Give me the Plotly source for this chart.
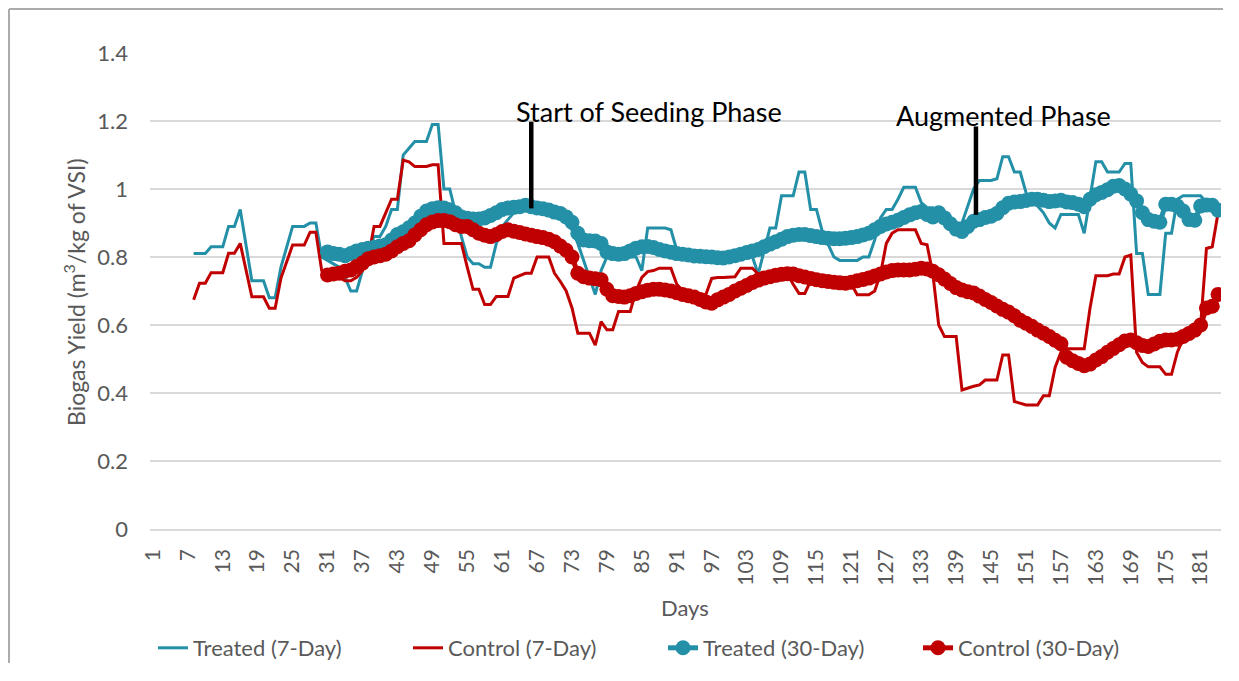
import plotly.graph_objects as go

# ---------------- data ----------------
days_7 = list(range(8, 185))     # 7-day moving average available from day 8
days_30 = list(range(31, 185))   # 30-day moving average available from day 31

treated_7 = [
    0.81, 0.81, 0.81, 0.83, 0.83, 0.83, 0.89, 0.89, 0.94, 0.83,      # 8-17
    0.73, 0.73, 0.73, 0.68, 0.68, 0.77, 0.83, 0.89, 0.89, 0.89,      # 18-27
    0.90, 0.90, 0.80, 0.79, 0.78, 0.77, 0.74, 0.70, 0.70, 0.76,      # 28-37
    0.82, 0.86, 0.86, 0.89, 0.94, 0.94, 1.10, 1.12, 1.14, 1.14,      # 38-47
    1.14, 1.19, 1.19, 1.00, 1.00, 0.93, 0.86, 0.80, 0.78, 0.78,      # 48-57
    0.77, 0.77, 0.84, 0.89, 0.91, 0.93, 0.94, 0.94, 0.945, 0.94,     # 58-67
    0.935, 0.93, 0.925, 0.915, 0.90, 0.88, 0.84, 0.79, 0.74, 0.69,   # 68-77
    0.76, 0.80, 0.80, 0.80, 0.80, 0.80, 0.80, 0.76, 0.885, 0.885,    # 78-87
    0.885, 0.885, 0.88, 0.82, 0.80, 0.80, 0.80, 0.80, 0.79, 0.79,    # 88-97
    0.79, 0.79, 0.80, 0.80, 0.80, 0.80, 0.80, 0.75, 0.82, 0.885,     # 98-107
    0.885, 0.98, 0.98, 0.98, 1.05, 1.05, 0.94, 0.94, 0.875, 0.84,    # 108-117
    0.80, 0.79, 0.79, 0.79, 0.79, 0.80, 0.80, 0.85, 0.915, 0.94,     # 118-127
    0.94, 0.97, 1.005, 1.005, 1.005, 0.96, 0.945, 0.945, 0.93, 0.91, # 128-137
    0.90, 0.90, 0.90, 0.95, 1.00, 1.025, 1.025, 1.025, 1.03, 1.095,  # 138-147
    1.095, 1.05, 1.05, 0.99, 0.96, 0.95, 0.93, 0.90, 0.885, 0.925,   # 148-157
    0.925, 0.925, 0.925, 0.87, 0.97, 1.08, 1.08, 1.05, 1.05, 1.05,   # 158-167
    1.075, 1.075, 0.81, 0.81, 0.69, 0.69, 0.69, 0.87, 0.87, 0.97,    # 168-177
    0.98, 0.98, 0.98, 0.98, 0.96, 0.94, 0.94,                        # 178-184
]

control_7 = [
    0.674, 0.723, 0.723, 0.754, 0.754, 0.754, 0.811, 0.811, 0.84, 0.76,   # 8-17
    0.683, 0.683, 0.683, 0.649, 0.649, 0.738, 0.79, 0.835, 0.835, 0.835,  # 18-27
    0.873, 0.873, 0.76, 0.75, 0.75, 0.74, 0.73, 0.73, 0.74, 0.76,         # 28-37
    0.80, 0.89, 0.89, 0.93, 0.97, 0.97, 1.085, 1.08, 1.066, 1.066,        # 38-47
    1.066, 1.071, 1.071, 0.84, 0.84, 0.84, 0.84, 0.77, 0.705, 0.705,      # 48-57
    0.66, 0.66, 0.684, 0.684, 0.684, 0.738, 0.745, 0.752, 0.752, 0.80,    # 58-67
    0.80, 0.80, 0.752, 0.728, 0.70, 0.65, 0.576, 0.576, 0.576, 0.541,     # 68-77
    0.61, 0.586, 0.586, 0.64, 0.64, 0.64, 0.70, 0.74, 0.757, 0.76,        # 78-87
    0.767, 0.767, 0.767, 0.72, 0.70, 0.69, 0.69, 0.69, 0.69, 0.737,       # 88-97
    0.74, 0.74, 0.742, 0.742, 0.767, 0.767, 0.767, 0.75, 0.75, 0.75,      # 98-107
    0.75, 0.75, 0.75, 0.72, 0.693, 0.693, 0.73, 0.73, 0.73, 0.73,         # 108-117
    0.73, 0.73, 0.73, 0.72, 0.689, 0.689, 0.689, 0.70, 0.75, 0.84,        # 118-127
    0.87, 0.88, 0.88, 0.88, 0.88, 0.84, 0.836, 0.75, 0.60, 0.566,         # 128-137
    0.566, 0.566, 0.409, 0.415, 0.42, 0.424, 0.438, 0.438, 0.438, 0.512,  # 138-147
    0.512, 0.375, 0.37, 0.365, 0.365, 0.365, 0.392, 0.392, 0.475, 0.52,   # 148-157
    0.53, 0.53, 0.53, 0.53, 0.65, 0.745, 0.745, 0.745, 0.75, 0.75,        # 158-167
    0.80, 0.806, 0.52, 0.49, 0.477, 0.477, 0.477, 0.455, 0.455, 0.52,     # 168-177
    0.56, 0.58, 0.58, 0.60, 0.825, 0.83, 0.93,                            # 178-184
]

treated_30 = [
    0.815, 0.81, 0.808, 0.804, 0.81, 0.818, 0.822, 0.826, 0.829, 0.832,   # 31-40
    0.836, 0.85, 0.866, 0.874, 0.886, 0.90, 0.92, 0.935, 0.942, 0.945,    # 41-50
    0.944, 0.939, 0.93, 0.918, 0.914, 0.912, 0.912, 0.915, 0.922, 0.93,   # 51-60
    0.94, 0.944, 0.946, 0.948, 0.952, 0.948, 0.944, 0.942, 0.938, 0.932,  # 61-70
    0.928, 0.918, 0.902, 0.87, 0.85, 0.848, 0.847, 0.84, 0.815, 0.81,     # 71-80
    0.808, 0.81, 0.818, 0.826, 0.83, 0.831, 0.828, 0.822, 0.818, 0.814,   # 81-90
    0.81, 0.808, 0.806, 0.803, 0.802, 0.801, 0.80, 0.798, 0.797, 0.80,    # 91-100
    0.804, 0.808, 0.813, 0.818, 0.822, 0.83, 0.838, 0.845, 0.852, 0.86,   # 101-110
    0.864, 0.866, 0.866, 0.863, 0.86, 0.857, 0.855, 0.854, 0.854, 0.855,  # 111-120
    0.857, 0.86, 0.865, 0.87, 0.88, 0.89, 0.897, 0.902, 0.908, 0.916,     # 121-130
    0.924, 0.93, 0.934, 0.925, 0.918, 0.93, 0.915, 0.898, 0.882, 0.875,   # 131-140
    0.89, 0.905, 0.91, 0.916, 0.92, 0.928, 0.945, 0.958, 0.962, 0.963,    # 141-150
    0.966, 0.97, 0.97, 0.967, 0.963, 0.965, 0.967, 0.962, 0.96, 0.955,    # 151-160
    0.948, 0.97, 0.983, 0.99, 0.998, 1.008, 1.01, 1.0, 0.985, 0.965,      # 161-170
    0.93, 0.91, 0.905, 0.902, 0.955, 0.955, 0.95, 0.935, 0.91, 0.908,     # 171-180
    0.95, 0.953, 0.952, 0.938,                                            # 181-184
]

control_30 = [
    0.747, 0.75, 0.752, 0.758, 0.762, 0.772, 0.782, 0.795, 0.80, 0.804,   # 31-40
    0.808, 0.818, 0.83, 0.84, 0.848, 0.865, 0.88, 0.895, 0.903, 0.907,    # 41-50
    0.907, 0.904, 0.895, 0.89, 0.89, 0.88, 0.87, 0.864, 0.86, 0.866,      # 51-60
    0.875, 0.88, 0.876, 0.872, 0.868, 0.864, 0.86, 0.857, 0.852, 0.845,   # 61-70
    0.832, 0.82, 0.80, 0.752, 0.742, 0.738, 0.736, 0.733, 0.705, 0.686,   # 71-80
    0.684, 0.682, 0.686, 0.693, 0.698, 0.702, 0.705, 0.705, 0.703, 0.70,  # 81-90
    0.695, 0.69, 0.686, 0.682, 0.675, 0.668, 0.664, 0.674, 0.682, 0.69,   # 91-100
    0.70, 0.708, 0.716, 0.725, 0.732, 0.738, 0.742, 0.746, 0.749, 0.751,  # 101-110
    0.75, 0.745, 0.741, 0.737, 0.733, 0.73, 0.728, 0.726, 0.724, 0.723,   # 111-120
    0.726, 0.73, 0.734, 0.738, 0.744, 0.75, 0.756, 0.76, 0.762, 0.762,    # 121-130
    0.762, 0.764, 0.767, 0.765, 0.758, 0.748, 0.735, 0.722, 0.71, 0.703,  # 131-140
    0.698, 0.694, 0.685, 0.675, 0.666, 0.656, 0.646, 0.638, 0.627, 0.614, # 141-150
    0.605, 0.596, 0.585, 0.576, 0.566, 0.555, 0.545, 0.505, 0.495, 0.487, # 151-160
    0.48, 0.485, 0.497, 0.507, 0.52, 0.531, 0.542, 0.553, 0.556, 0.548,   # 161-170
    0.54, 0.537, 0.544, 0.552, 0.556, 0.556, 0.558, 0.566, 0.575, 0.585,  # 171-180
    0.60, 0.65, 0.655, 0.69,                                              # 181-184
]

x_tick_values = list(range(1, 185, 6))
x_tick_labels = [str(v) for v in x_tick_values]

phase_names = ["Start of Seeding Phase", "Augmented Phase"]
phase_days = [66, 142.4]

# ---------------- style ----------------
TEAL = "#2490A8"
RED = "#C00000"
GREY_TEXT = "#595959"
GRID = "#D9D9D9"
FONT = "Lato, 'Open Sans', sans-serif"
FS = 22

fig = go.Figure()
fig.add_trace(go.Scatter(x=days_7, y=treated_7, mode="lines", name="Treated (7-Day)",
                         line=dict(color=TEAL, width=3)))
fig.add_trace(go.Scatter(x=days_7, y=control_7, mode="lines", name="Control (7-Day)",
                         line=dict(color=RED, width=3)))
fig.add_trace(go.Scatter(x=days_30, y=treated_30, mode="lines+markers", name="Treated (30-Day)",
                         line=dict(color=TEAL, width=5),
                         marker=dict(color=TEAL, size=15, symbol="circle")))
fig.add_trace(go.Scatter(x=days_30, y=control_30, mode="lines+markers", name="Control (30-Day)",
                         line=dict(color=RED, width=5),
                         marker=dict(color=RED, size=15, symbol="circle")))

# phase marker lines
fig.add_shape(type="line", xref="x", yref="y", x0=phase_days[0], x1=phase_days[0],
              y0=0.943, y1=1.198, line=dict(color="black", width=4.5), layer="above")
fig.add_shape(type="line", xref="x", yref="y", x0=phase_days[1], x1=phase_days[1],
              y0=0.924, y1=1.184, line=dict(color="black", width=4.5), layer="above")

fig.add_annotation(x=86.3, y=1.228, xref="x", yref="y", text=phase_names[0], showarrow=False,
                   font=dict(family=FONT, size=27, color="black"), xanchor="center", yanchor="middle")
fig.add_annotation(x=147.1, y=1.217, xref="x", yref="y", text=phase_names[1], showarrow=False,
                   font=dict(family=FONT, size=27, color="black"), xanchor="center", yanchor="middle")

# axis titles as annotations for exact placement
fig.add_annotation(x=-0.070, y=0.498, xref="paper", yref="paper",
                   text="Biogas Yield (m<sup>3</sup>/kg of VSI)", textangle=-90, showarrow=False,
                   font=dict(family=FONT, size=23, color=GREY_TEXT), xanchor="center", yanchor="middle")
fig.add_annotation(x=0.4995, y=-0.164, xref="paper", yref="paper", text="Days", showarrow=False,
                   font=dict(family=FONT, size=FS, color=GREY_TEXT), xanchor="center", yanchor="middle")

# chart-area border (top and left edges visible)
fig.add_shape(type="line", xref="paper", yref="paper", x0=-0.13165, x1=1.0019, y0=1.0924, y1=1.0924,
              line=dict(color="#ABABAB", width=2), layer="above")
fig.add_shape(type="line", xref="paper", yref="paper", x0=-0.13165, x1=-0.13165, y0=-0.2815, y1=1.0924,
              line=dict(color="#ABABAB", width=2), layer="above")

fig.update_layout(
    width=1215, height=655,
    margin=dict(l=142, r=2, t=45, b=134, autoexpand=False),
    paper_bgcolor="white", plot_bgcolor="white",
    font=dict(family=FONT, size=FS, color=GREY_TEXT),
    showlegend=True,
    legend=dict(orientation="h", x=0.0028, y=-0.25, xanchor="left", yanchor="middle",
                font=dict(family=FONT, size=FS, color=GREY_TEXT),
                entrywidth=210, entrywidthmode="pixels", traceorder="normal",
                bgcolor="rgba(0,0,0,0)"),
)
fig.update_xaxes(range=[0.5, 184.5], tickmode="array", tickvals=x_tick_values, ticktext=x_tick_labels,
                 tickangle=-90, showgrid=False, zeroline=False, showline=True, linecolor=GRID, linewidth=1.5,
                 ticks="", ticklabelstandoff=10, automargin=False,
                 tickfont=dict(family=FONT, size=21, color=GREY_TEXT))
fig.update_yaxes(range=[0, 1.4], dtick=0.2, tick0=0, showgrid=True, gridcolor=GRID, gridwidth=1.5,
                 zeroline=False, showline=False, ticks="", ticklabelstandoff=21, automargin=False,
                 tickfont=dict(family=FONT, size=FS, color=GREY_TEXT))

fig.write_html("out.html")
